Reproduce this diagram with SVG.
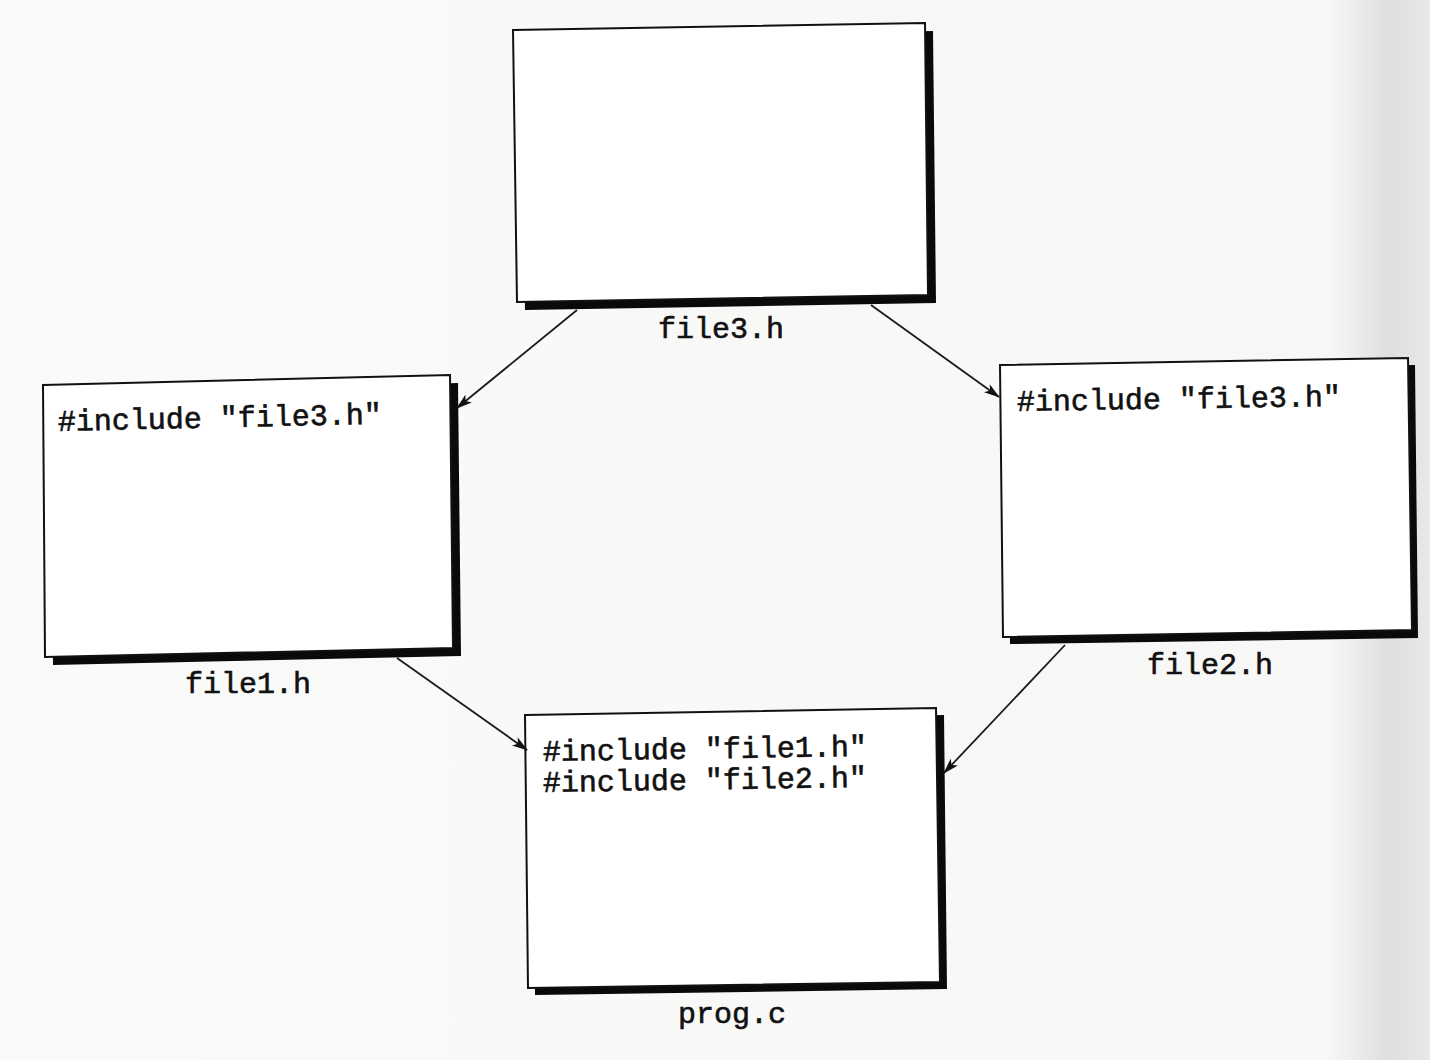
<svg xmlns="http://www.w3.org/2000/svg" width="1430" height="1060" viewBox="0 0 1430 1060">
<defs>
<linearGradient id="edge" x1="0" y1="0" x2="1" y2="0">
<stop offset="0" stop-color="#fafaf9"/>
<stop offset="0.93" stop-color="#f7f7f6"/>
<stop offset="0.97" stop-color="#dfdfdd"/>
<stop offset="1" stop-color="#e8e8e6"/>
</linearGradient>
<marker id="ah" viewBox="0 0 16 10" refX="15" refY="5" markerWidth="16" markerHeight="10" markerUnits="userSpaceOnUse" orient="auto">
<path d="M0,0 L16,5 L0,10 L4,5 Z" fill="#111"/>
</marker>
<style>
.shadow{fill:#0a0a0a}
.box{fill:#ffffff;stroke:#111;stroke-width:2}
.code{font-family:"Liberation Mono","Courier New",monospace;font-size:30px;fill:#111;stroke:#111;stroke-width:0.6}
.lbl{font-family:"Liberation Mono","Courier New",monospace;font-size:30px;fill:#111;stroke:#111;stroke-width:0.6}
.conn{stroke:#1a1a1a;stroke-width:1.8;fill:none;marker-end:url(#ah)}
</style>
</defs>
<rect x="0" y="0" width="1430" height="1060" fill="url(#edge)"/>
<g id="file3">
<polygon class="shadow" points="521,38 933,31 936,303 525,310"/>
<polygon class="box" points="513,30 925,23 928,295 517,302"/>
<text class="lbl" x="658" y="338">file3.h</text>
</g>
<g id="file1">
<polygon class="shadow" points="51,393 458,383 461,656 53,665"/>
<polygon class="box" points="43,385 450,375 453,648 45,657"/>
<text class="code" x="58" y="431" transform="rotate(-1.3 58 431)">#include "file3.h"</text>
<text class="lbl" x="185" y="693">file1.h</text>
</g>
<g id="file2">
<polygon class="shadow" points="1007,372 1415,365 1418,638 1010,644"/>
<polygon class="box" points="1000,365 1408,358 1412,630 1003,637"/>
<text class="code" x="1017" y="411" transform="rotate(-0.9 1017 411)">#include "file3.h"</text>
<text class="lbl" x="1147" y="674">file2.h</text>
</g>
<g id="prog">
<polygon class="shadow" points="533,722 944,715 947,989 535,995"/>
<polygon class="box" points="525,715 936,708 940,982 528,988"/>
<text class="code" x="543" y="761" transform="rotate(-0.9 543 761)">#include "file1.h"</text>
<text class="code" x="543" y="792" transform="rotate(-0.9 543 792)">#include "file2.h"</text>
<text class="lbl" x="678" y="1023">prog.c</text>
</g>
<g id="connectors">
<line class="conn" x1="577" y1="310" x2="457" y2="408"/>
<line class="conn" x1="871" y1="305" x2="999" y2="397"/>
<line class="conn" x1="397" y1="658" x2="527" y2="750"/>
<line class="conn" x1="1065" y1="645" x2="944" y2="773"/>
</g>
</svg>
